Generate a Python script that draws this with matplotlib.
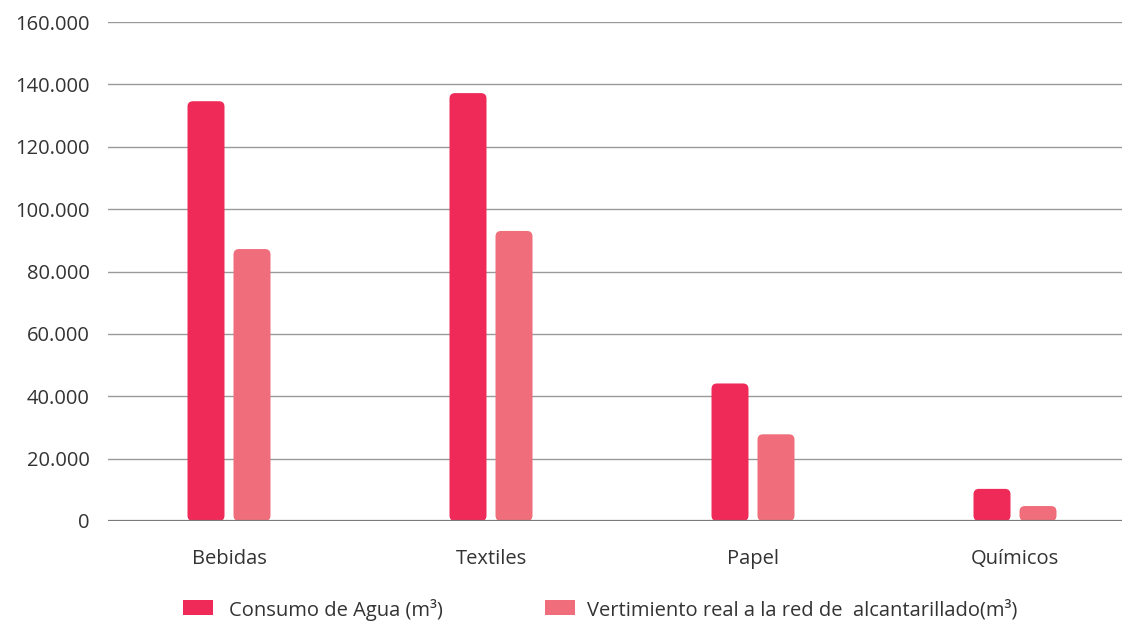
import numpy as np
import matplotlib
matplotlib.use("Agg")
import matplotlib.pyplot as plt
from matplotlib.patches import FancyBboxPatch, Rectangle

sectores = ["Bebidas", "Textiles", "Papel", "Químicos"]
consumo = [134600, 137200, 44100, 10300]
vertimiento = [87200, 93000, 27800, 4800]
yticks = [0, 20000, 40000, 60000, 80000, 100000, 120000, 140000, 160000]
yticklabels = ["0", "20.000", "40.000", "60.000", "80.000", "100.000",
               "120.000", "140.000", "160.000"]
serie_labels = ["Consumo de Agua (m³)",
                "Vertimiento real a la red de  alcantarillado(m³)"]

C_CONSUMO = "#EF2A59"
C_VERT = "#F06E7B"
TXT = "#333333"
FS = 14.5

plt.rcParams["font.family"] = ["Open Sans", "DejaVu Sans"]

W_PX, H_PX = 1122, 621
fig = plt.figure(figsize=(W_PX / 100, H_PX / 100), dpi=100)
ax = fig.add_axes([108 / W_PX, 1 - 521 / H_PX, (1122 - 108) / W_PX, (521 - 22) / H_PX])

step = 262.0  # px between group centres
x_left = (108 - 229) / step
x_right = (1122 - 229) / step
ax.set_xlim(x_left, x_right)
ax.set_ylim(0, 160000)

px_x = 1 / step
px_y = 160000 / 499
aspect = px_y / px_x
bw = 37 * px_x
off = 23 * px_x
rad = 5.5 * px_x

x = np.arange(len(sectores))
for xi, a, b in zip(x, consumo, vertimiento):
    for xc, val, col in ((xi - off, a, C_CONSUMO), (xi + off, b, C_VERT)):
        r = min(rad, val / aspect / 2)
        ax.add_patch(FancyBboxPatch(
            (xc - bw / 2, 0), bw, val,
            boxstyle=f"round,pad=0,rounding_size={r}",
            mutation_aspect=aspect, facecolor=col, edgecolor="none",
            zorder=3))

for t in yticks[1:]:
    ax.axhline(t, color="#9a9a9a", linewidth=1.0, zorder=1)
ax.axhline(0, color="#7a7a7a", linewidth=1.6, zorder=4)

ax.set_yticks(yticks)
ax.set_yticklabels(yticklabels, fontsize=FS, color=TXT)
ax.set_xticks(x)
ax.set_xticklabels(sectores, fontsize=FS, color=TXT)
ax.tick_params(axis="both", length=0)
ax.tick_params(axis="y", pad=13)
ax.tick_params(axis="x", pad=20)
for s in ax.spines.values():
    s.set_visible(False)

# legend drawn in figure pixels
leg_y = H_PX - 608
for x0, tx, col, lab in ((183, 229, C_CONSUMO, serie_labels[0]),
                         (545, 587, C_VERT, serie_labels[1])):
    fig.patches.append(Rectangle((x0 / W_PX, (leg_y - 7) / H_PX),
                                 30 / W_PX, 15 / H_PX, facecolor=col,
                                 edgecolor="none", transform=fig.transFigure))
    fig.text(tx / W_PX, (leg_y - 2) / H_PX, lab, fontsize=FS,
             color=TXT, va="center", ha="left")

fig.savefig("out.png", dpi=100)
